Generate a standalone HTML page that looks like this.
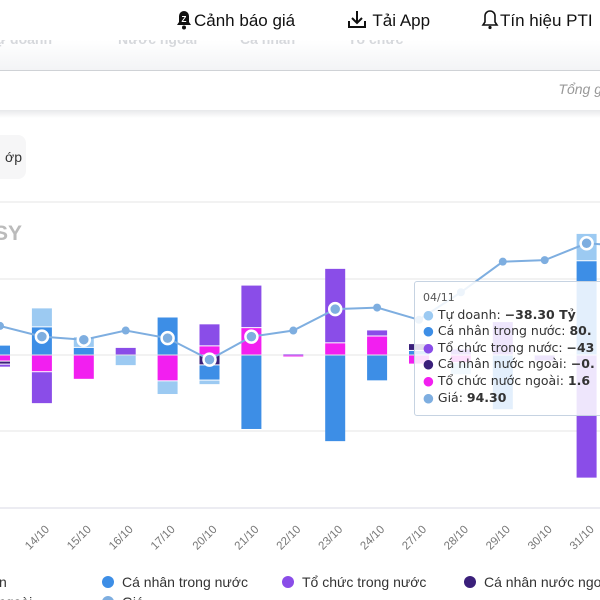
<!DOCTYPE html>
<html><head><meta charset="utf-8">
<style>
body{margin:0;width:600px;height:600px;overflow:hidden;background:#fff;font-family:"Liberation Sans","DejaVu Sans",sans-serif;position:relative}
.hdr{position:absolute;top:8px;font-size:17px;color:#111}
</style></head><body>
<div style="position:absolute;left:0;top:0;width:600px;height:40px;background:#fff"></div>
<div class="hdr" style="left:174px">
<svg width="20" height="22" style="vertical-align:-4px"><path d="M3 17 L5 14 V8 A5 5 0 0 1 15 8 V14 L17 17 Z" fill="#111"/><circle cx="10" cy="19.5" r="2" fill="#111"/><text x="10" y="14" font-size="8" fill="#fff" text-anchor="middle" font-weight="bold">Z</text></svg>Cảnh báo giá</div>
<div class="hdr" style="left:346px">
<svg width="22" height="22" style="vertical-align:-4px"><path d="M11 3 V15 M6 10 L11 15 L16 10 M3 13 V19 H19 V13" stroke="#111" stroke-width="2" fill="none"/></svg> Tải App</div>
<div class="hdr" style="left:480px">
<svg width="20" height="22" style="vertical-align:-4px"><path d="M3 17 L5 14 V8 A5 5 0 0 1 15 8 V14 L17 17 Z" fill="none" stroke="#111" stroke-width="1.6"/><circle cx="10" cy="19.5" r="1.6" fill="#111"/></svg>Tín hiệu PTI</div>
<div style="position:absolute;left:0;top:40px;width:600px;height:30px;overflow:hidden;background:linear-gradient(#fff,#f3f4f6);border-bottom:1px solid #cfd2d6;color:#d6d8dc;font-size:14px;font-weight:bold">
<span style="position:absolute;left:-4px;top:-9px">ự doanh</span><span style="position:absolute;left:118px;top:-9px">Nước ngoài</span><span style="position:absolute;left:240px;top:-9px">Cá nhân</span><span style="position:absolute;left:348px;top:-9px">Tổ chức</span></div>
<div style="position:absolute;right:-2px;top:81px;font-size:14px;font-style:italic;color:#999">Tổng g</div>
<div style="position:absolute;left:0;top:110px;width:600px;height:8px;background:linear-gradient(#e8e9eb,#fff)"></div>
<div style="position:absolute;left:-10px;top:135px;width:36px;height:44px;background:#f6f6f7;border-radius:8px;font-size:14px;color:#333;line-height:44px;text-align:right;padding-right:4px;box-sizing:border-box">ớp</div>
<svg id="chart" width="600" height="600" style="position:absolute;left:0;top:0"></svg>
<div style="position:absolute;left:414px;top:281px;width:200px;height:135px;background:rgba(255,255,255,0.86);border:1.5px solid #c6d3e2;border-radius:3px;font-family:'DejaVu Sans',sans-serif;font-size:12.5px;color:#333;line-height:16.6px;padding:8px 0 0 8px;box-sizing:border-box;white-space:nowrap">
<div style="font-size:11px;color:#555">04/11</div>
<div><span style="color:#9ccaf2">●</span> Tự doanh: <b>−38.30 Tỷ</b></div>
<div><span style="color:#3d8ee6">●</span> Cá nhân trong nước: <b>80.</b></div>
<div><span style="color:#8a4de8">●</span> Tổ chức trong nước: <b>−43</b></div>
<div><span style="color:#3a1f7a">●</span> Cá nhân nước ngoài: <b>−0.</b></div>
<div><span style="color:#f21ff0">●</span> Tổ chức nước ngoài: <b>1.6</b></div>
<div><span style="color:#7eaee0">●</span> Giá: <b>94.30</b></div>
</div>
<script>
const categories=["13/10","14/10","15/10","16/10","17/10","20/10","21/10","22/10","23/10","24/10","27/10","28/10","29/10","30/10","31/10","03/11"];
const tuDoanh=[0,12.5,7,-7,-9,-3,0,0,0,0,0,-8,0,0,18,0];
const caNhanTN=[6.5,18.5,5,0,25,-10,-49,0,-57,-17,3,0,-36,0,62,0];
const toChucTN=[-2,-21,0,5,0,14.5,28,0.7,49,4,0,4,22,-4,-81,0];
const caNhanNN=[-2,0,0,0,0,-6.5,0,0,0,0,4.5,0,0,0,0,0];
const toChucNN=[-4,-11,-16,0,-17,6,18,-1.3,8,12.5,-6,-5,0,0,0,0];
const price=[91.9,91.2,91.0,91.6,91.1,89.7,91.2,91.6,93.0,93.1,92.3,94.1,96.1,96.2,97.3,97.1];
const ringed=["14/10","15/10","17/10","20/10","21/10","23/10","31/10"];
const S={td:{data:tuDoanh,color:"#9ccaf2"},cntn:{data:caNhanTN,color:"#3d8ee6"},tctn:{data:toChucTN,color:"#8a4de8"},cnnn:{data:caNhanNN,color:"#3a1f7a"},tcnn:{data:toChucNN,color:"#f21ff0"}};
const posOrder=["cntn","td","cnnn","tcnn","tctn"];
const negOrder=["tcnn","cnnn","cntn","td","tctn"];
const NS="http://www.w3.org/2000/svg";
const svg=document.getElementById("chart");
const X0=0,STEP=41.9,ZERO=355,PX=1.52;
const xs=i=>X0+i*STEP;
const yv=v=>ZERO-v*PX;
const yp=p=>508-(p-80)*15.3;
function mk(t,a){const e=document.createElementNS(NS,t);for(const k in a)e.setAttribute(k,a[k]);svg.appendChild(e);return e;}
const t=mk("text",{x:-6,y:240,"font-size":21,"font-weight":"bold",fill:"#bbb"});t.textContent="SY";


mk("line",{x1:0,x2:600,y1:202,y2:202,stroke:"#e4e4e4"});
[50,0,-50].forEach(v=>{const l=mk("line",{x1:0,x2:600,y1:yv(v),y2:yv(v),stroke:"#e6e6e6"});

});
const ax=mk("line",{x1:0,x2:600,y1:508,y2:508,stroke:"#d8d8e4"});


function drawBar(c,i,y0,y1,color){
  const top=Math.min(yv(y0),yv(y1)),h=Math.abs(yv(y1)-yv(y0));
  const r=mk("rect",{x:xs(i)-10,y:top+0.5,width:20,height:Math.max(h-1,0.8),fill:color});
  
  
}
categories.forEach((c,i)=>{let pos=0,neg=0;
 posOrder.forEach(k=>{const v=S[k].data[i];if(v>0){drawBar(c,i,pos,pos+v,S[k].color);pos+=v;}});
 negOrder.forEach(k=>{const v=S[k].data[i];if(v<0){drawBar(c,i,neg,neg+v,S[k].color);neg+=v;}});
 if(i>=1&&i<=14){const ty=530;const tx=mk("text",{x:xs(i)+8,y:ty,"font-size":11.5,fill:"#777","text-anchor":"end",transform:`rotate(-45 ${xs(i)+8} ${ty})`});tx.textContent=c;
 
 }
});
let d="";price.forEach((p,i)=>{d+=(i?"L":"M")+xs(i)+" "+yp(p);});
const pl=mk("path",{d:d,fill:"none",stroke:"#7eaee0","stroke-width":2});


price.forEach((p,i)=>{const ring=ringed.includes(categories[i]);
 const c=mk("circle",{cx:xs(i),cy:yp(p),r:ring?6:4,fill:"#7eaee0",stroke:ring?"#fff":"none","stroke-width":2.5});
 
 });
const leg=[["n",-30,"#9ccaf2",582],["Cá nhân trong nước",108,"#3d8ee6",582],["Tổ chức trong nước",288,"#8a4de8",582],["Cá nhân nước ngoài",470,"#3a1f7a",582],["Giá",108,"#7eaee0",602],["ổ chức nước ngoài",-100,"#f21ff0",602]];
leg.forEach(l=>{const c=mk("circle",{cx:l[1],cy:l[3],r:6,fill:l[2]});
 
 
 const tx=mk("text",{x:l[1]<0&&l[0]=="n"?-1:l[1]+14,y:l[3]+5,"font-size":14,fill:"#333"});tx.textContent=l[0];
 
 });
</script>
</body></html>
